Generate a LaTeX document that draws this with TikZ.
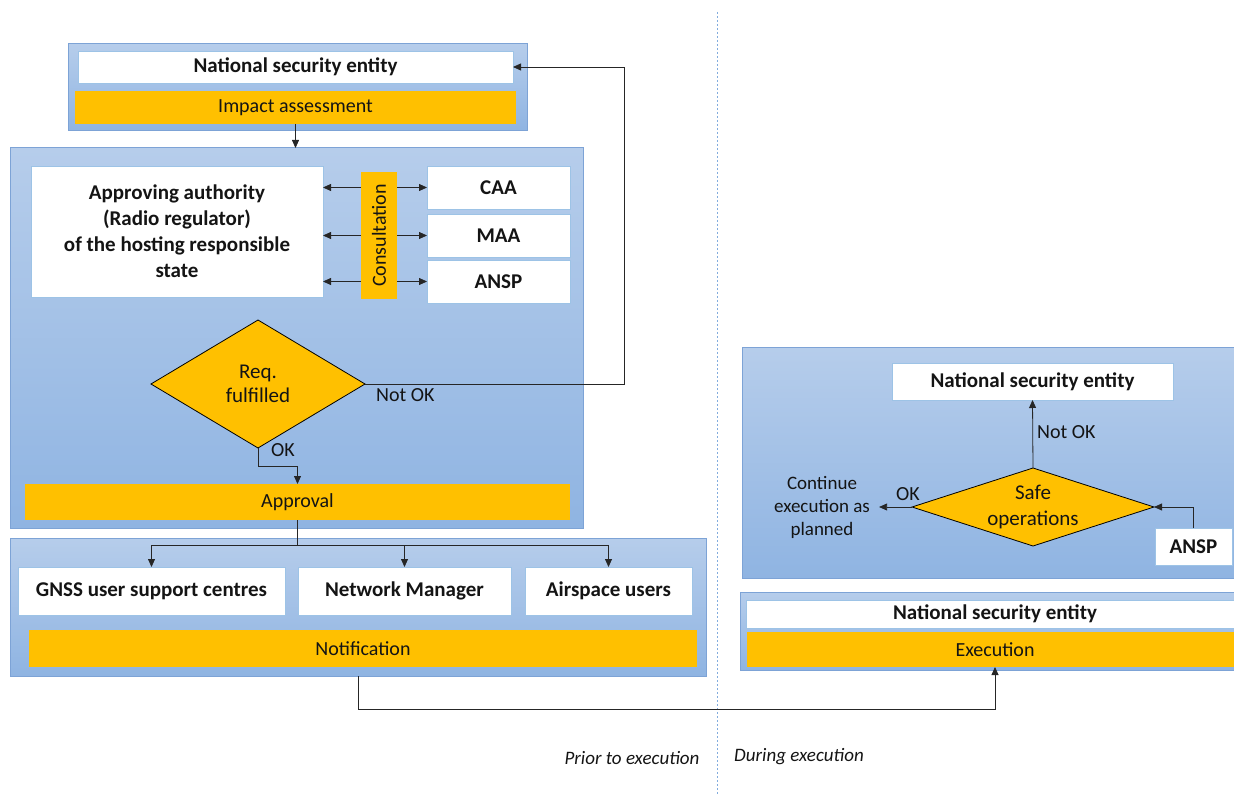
\documentclass[tikz,border=0pt]{standalone}
\usepackage{fontspec}
\setmainfont{Carlito}
\usetikzlibrary{shapes.geometric,arrows.meta,calc}
\definecolor{panelTop}{RGB}{182,205,235}
\definecolor{panelBot}{RGB}{143,180,226}
\definecolor{panelEdge}{RGB}{125,163,214}
\definecolor{amber}{RGB}{255,192,0}
\definecolor{boxEdge}{RGB}{157,195,230}
\definecolor{sepline}{RGB}{130,172,222}
\definecolor{ink}{RGB}{20,20,20}

\tikzset{
  panel/.style={draw=panelEdge, line width=1pt, top color=panelTop, bottom color=panelBot,
    inner sep=0, outer sep=0, anchor=north west},
  whitebox/.style={draw=boxEdge, line width=0.8pt, fill=white, inner sep=0, outer sep=0,
    anchor=north west, text=ink, font=\fontsize{21}{26}\selectfont\bfseries, align=center},
  bar/.style={fill=amber, inner sep=0, outer sep=0, anchor=north west, text=ink,
    font=\fontsize{20}{24}\selectfont},
  decision/.style={diamond, draw=black, line width=0.8pt, fill=amber, inner sep=0, outer sep=0,
    align=center, text=ink},
  flow/.style={line width=0.8pt, draw=black!85, -{Triangle[length=8pt,width=7pt]}},
  plain/.style={line width=0.8pt, draw=black!85},
  lbl/.style={font=\fontsize{20}{24}\selectfont, inner sep=0, text=ink},
  caption/.style={font=\fontsize{19}{22}\selectfont\itshape, text=ink},
}

\begin{document}
\begin{tikzpicture}[x=1pt, y=-1pt]
\useasboundingbox (0,0) rectangle (1234,794);
\clip (0,0) rectangle (1234,794);

% ---- phase separator
\draw[sepline, line width=0.8pt, dash pattern=on 2pt off 2pt] (717,12) -- (717,794);

% ---- impact assessment panel
\node[panel, minimum width=459pt, minimum height=87pt] (toppanel) at (68,44) {};
\node[whitebox, minimum width=435pt, minimum height=32pt] (nse1) at (78,51) {National security entity};
\node[bar, minimum width=441pt, minimum height=33pt] (impact) at (75,91) {Impact assessment};

% ---- approval panel
\node[panel, minimum width=573pt, minimum height=380pt] (main) at (10,148) {};
\node[whitebox, minimum width=292pt, minimum height=131pt] (auth) at (31,166)
  {Approving authority\\(Radio regulator)\\of the hosting responsible\\state};
\node[bar, minimum width=36pt, minimum height=127pt] (consult) at (361,172) {\rotatebox{90}{Consultation}};
\node[whitebox, minimum width=143pt, minimum height=43pt] (caa) at (427,166) {CAA};
\node[whitebox, minimum width=143pt, minimum height=43pt] (maa) at (427,214) {MAA};
\node[whitebox, minimum width=143pt, minimum height=43pt] (ansp1) at (427,260) {ANSP};
\node[decision, minimum width=214pt, minimum height=128pt, aspect=1.67,
  font=\fontsize{21}{24}\selectfont] (req) at (258,384) {Req.\\fulfilled};
\node[bar, minimum width=545pt, minimum height=36pt] (approval) at (25,484) {Approval};

% ---- notification panel
\node[panel, minimum width=696pt, minimum height=138pt] (notifpanel) at (10,538) {};
\node[whitebox, minimum width=267pt, minimum height=48pt] (gnss) at (18,567) {GNSS user support centres};
\node[whitebox, minimum width=213pt, minimum height=48pt] (nm) at (298,567) {Network Manager};
\node[whitebox, minimum width=167pt, minimum height=48pt] (air) at (525,567) {Airspace users};
\node[bar, minimum width=668pt, minimum height=37pt] (notification) at (29,630) {Notification};

% ---- monitoring panel (during execution)
\node[panel, minimum width=510pt, minimum height=231pt] (monpanel) at (742,347) {};
\node[whitebox, minimum width=281pt, minimum height=37pt] (nse2) at (892,363) {National security entity};
\node[decision, minimum width=242pt, minimum height=78pt, aspect=3.1,
  font=\fontsize{21}{26}\selectfont] (safe) at (1033,507) {Safe\\operations};
\node[whitebox, minimum width=77pt, minimum height=37pt] (ansp2) at (1155,528) {ANSP};
\node[align=center, text=ink, inner ysep=0, inner xsep=9pt, font=\fontsize{19}{23}\selectfont]
  (cont) at (822,507) {Continue\\execution as\\planned};

% ---- execution panel
\node[panel, minimum width=510pt, minimum height=78pt] (execpanel) at (740,592) {};
\node[whitebox, minimum width=498pt, minimum height=28pt] (nse3) at (746,600) {National security entity};
\node[bar, minimum width=496pt, minimum height=35pt] (exec) at (747,632) {Execution};

% ---- connectors
\draw[flow] (impact.south) -- (impact.south |- main.north);

\foreach \t in {caa, maa, ansp1} {
  \draw[flow] (consult.west |- \t.west) -- (auth.east |- \t.west);
  \draw[flow] (consult.east |- \t.west) -- (\t.west);
}

\draw[flow] (req.east) -- ++(259,0) |- (nse1.east);
\node[lbl, anchor=north west] (notok1) at (376,388) {Not OK};

\draw[flow] (req.south) -- ++(0,18) -| (approval.north);
\node[lbl, anchor=north west] (ok1) at (271,443) {OK};

\draw[plain] (approval.south) -- ++(0,25) coordinate (split);
\draw[flow] (split) -| (gnss.north);
\draw[flow] (split) -| (nm.north);
\draw[flow] (split) -| (air.north);

\draw[flow] (notifpanel.south) -- ++(0,33) -| (exec.south);

\draw[flow] (safe.north) -- (nse2.south);
\node[lbl, anchor=west] (notok2) at (1037,432) {Not OK};
\draw[flow] (safe.west) -- (cont.east);
\node[lbl, anchor=south] (ok2) at (908,501) {OK};
\draw[flow] (ansp2.north) |- (safe.east);

% ---- phase captions
\node[caption] (prior) at (632,758) {Prior to execution};
\node[caption] (during) at (799,757) {During execution};
\end{tikzpicture}
\end{document}
